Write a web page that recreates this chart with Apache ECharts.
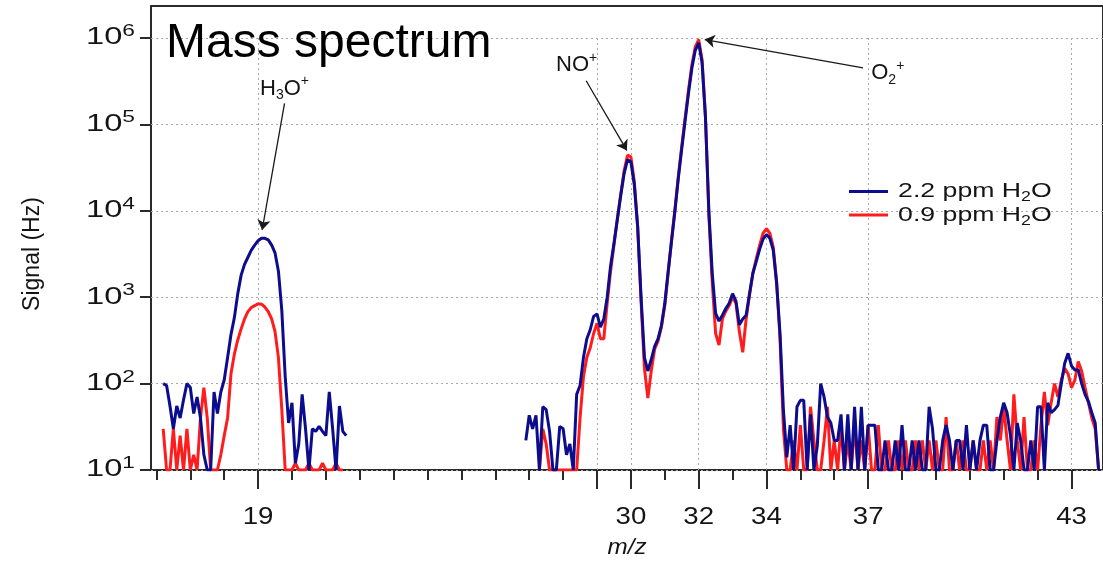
<!DOCTYPE html>
<html>
<head>
<meta charset="utf-8">
<script src="https://cdn.jsdelivr.net/npm/echarts@6/dist/echarts.min.js"></script>
<style>
  html, body { margin: 0; padding: 0; background: #ffffff; }
  #chart { width: 1103px; height: 564px; }
</style>
</head>
<body>
<div id="chart"></div>
<script>
// ---- scan data -------------------------------------------------------
// Each window is sampled every mzStep amu, starting at the given m/z.
const mzStep = 0.1;

// 2.2 ppm H2O
const blueStartA = 16.2;
const blueA = [
  100, 95, 55, 30, 55, 40, 65, 100,                         // 16.2 - 16.9
  90, 45, 70, 40, 15, 10, 10, 80, 45, 80,                   // 17
  110, 200, 370, 580, 1100, 1800, 2400, 2900, 3500, 4000,   // 18
  4500, 4800, 4800, 4600, 4000, 3250, 2000, 700, 120, 35,   // 19
  60, 12, 20, 75, 30, 10, 30, 28, 32, 28,                   // 20
  25, 80, 30, 10, 55, 28, 25                                // 21.0 - 21.6
];
const blueStartB = 26.9;
const blueB = [
  22,                                                                     // 26.9
  43, 30, 43, 10, 54, 50, 28, 10, 10, 32,                                 // 27
  30, 15, 20, 10, 75, 95, 200, 330, 420, 600,                             // 28
  640, 450, 560, 1000, 2300, 4200, 8000, 15000, 27000, 39000,             // 29
  37000, 20000, 6500, 1000, 200, 140, 190, 270, 330, 470,                 // 30
  850, 2000, 4500, 10000, 24000, 52000, 110000, 230000, 450000, 720000,   // 31
  880000, 520000, 120000, 10000, 1900, 650, 530, 620, 740, 850,           // 32
  1100, 900, 480, 560, 620, 1100, 1900, 2600, 3600, 4700,                 // 33
  5300, 4800, 3500, 1450, 380, 50, 14, 33, 10, 54,                        // 34
  64, 64, 10, 44, 10, 19, 100, 70, 41, 35,                                // 35
  22, 22, 44, 10, 44, 10, 54, 10, 54, 10,                                 // 36
  33, 33, 33, 10, 10, 22, 10, 10, 22, 10,                                 // 37
  33, 10, 10, 22, 10, 22, 10, 10, 54, 30,                                 // 38
  10, 10, 22, 33, 22, 10, 22, 22, 10, 33,                                 // 39
  10, 22, 10, 22, 33, 33, 10, 10, 22, 41,                                 // 40
  60, 46, 25, 10, 35, 22, 10, 10, 22, 10,                                 // 41
  54, 54, 10, 60, 46, 50, 56, 100, 172, 224,                              // 42
  160, 144, 144, 100, 75, 62, 46, 35, 10                                  // 43.0 - 43.8
];

// 0.9 ppm H2O
const redStartA = 16.2;
const redA = [
  30, 10, 10, 30, 10, 25, 10, 30,                           // 16.2 - 16.9
  10, 15, 10, 40, 90, 40, 10, 10, 10, 15,                   // 17
  25, 40, 130, 220, 320, 430, 560, 680, 760, 800,           // 18
  840, 830, 770, 680, 560, 400, 200, 50, 10, 10,            // 19
  10, 12, 10, 10, 10, 12, 10, 10, 10, 12,                   // 20
  10, 10, 10, 12, 10, 10                                    // 21.0 - 21.5
];
const redStartB = 27.3;
const redB = [
  10, 30, 20, 10, 10, 10, 10,                                             // 27.3 - 27.9
  10, 10, 10, 10, 10, 40, 120, 200, 260, 380,                             // 28
  500, 330, 330, 850, 2000, 4000, 8000, 15500, 29000, 44000,              // 29
  42000, 22000, 6500, 900, 150, 68, 140, 250, 310, 450,                   // 30
  800, 1900, 4600, 10500, 25000, 56000, 120000, 250000, 490000, 790000,   // 31
  960000, 560000, 125000, 9000, 1500, 380, 280, 560, 690, 800,            // 32
  1000, 850, 400, 230, 560, 1050, 1900, 2800, 4000, 5500,                 // 33
  6200, 5500, 3800, 1500, 330, 30, 10, 10, 22, 10,                        // 34
  33, 10, 10, 54, 22, 10, 10, 22, 54, 10,                                 // 35
  22, 10, 33, 10, 22, 10, 33, 10, 22, 10,                                 // 36
  33, 10, 10, 33, 10, 10, 22, 10, 10, 22,                                 // 37
  10, 22, 10, 10, 22, 10, 22, 10, 22, 10,                                 // 38
  22, 10, 10, 41, 10, 10, 22, 10, 22, 10,                                 // 39
  10, 22, 10, 10, 22, 10, 22, 10, 41, 22,                                 // 40
  54, 22, 10, 75, 22, 10, 41, 10, 10, 22,                                 // 41
  10, 33, 80, 33, 60, 100, 70, 110, 150, 130,                             // 42
  90, 110, 180, 140, 90, 60, 40, 30, 10                                   // 43.0 - 43.8
];

// ---- axes -------------------------------------------------------------
const seriesNames = ['2.2 ppm H2O', '0.9 ppm H2O'];
const xMinorTicks = [16, 17, 18, 19, 20, 21, 22, 23, 24, 25, 26, 27, 28, 29,
                     30, 31, 32, 33, 34, 35, 36, 37, 38, 39, 40, 41, 42, 43];
const xMajorTicks = [19, 29, 30, 32, 34, 37, 43];
const xTickLabels = [19, 30, 32, 34, 37, 43];
const yDecades = [10, 100, 1000, 10000, 100000, 1000000];

// ion annotations: label text position, arrow tail and arrow head (m/z, Hz)
const ionLabels = [
  { rich: '{t|H}{sub|3}{t|O}{sup|+}', text: [19.78, 2.6e5], tail: [19.78, 1.75e5], head: [19.12, 6.0e3] },
  { rich: '{t|NO}{sup|+}',            text: [28.40, 4.9e5], tail: [28.68, 3.2e5], head: [29.88, 5.0e4] },
  { rich: '{t|O}{sub|2}{sup|+}',      text: [37.58, 3.9e5], tail: [36.85, 4.5e5], head: [32.18, 9.6e5] }
];

// ---- build ----------------------------------------------------------------
const FONT = '"Liberation Sans", Arial, Helvetica, sans-serif';
const INK = '#141414';
const FRAME = '#2a2a2a';
const BLUE = '#0c0c8e';
const RED = '#ff1c1c';
const xMin = 15.84;
const xMax = 43.93;

function scanPoints(start, values) {
  return values.map((v, i) => [Number((start + i * mzStep).toFixed(2)), v]);
}
function joinWindows(a, b) {
  // an empty value between the windows breaks the trace
  const gapX = (a[a.length - 1][0] + b[0][0]) / 2;
  return a.concat([[gapX, '-']], b);
}

const blueData = joinWindows(scanPoints(blueStartA, blueA), scanPoints(blueStartB, blueB));
const redData = joinWindows(scanPoints(redStartA, redA), scanPoints(redStartB, redB));

const scriptRich = {
  t: { fontSize: 22, lineHeight: 28, color: INK, fontFamily: FONT },
  sub: { fontSize: 14, lineHeight: 14, verticalAlign: 'bottom', color: INK, fontFamily: FONT },
  sup: { fontSize: 14, lineHeight: 14, verticalAlign: 'top', color: INK, fontFamily: FONT }
};

const chart = echarts.init(document.getElementById('chart'), null, { renderer: 'canvas' });

chart.setOption({
  animation: false,
  backgroundColor: '#ffffff',
  textStyle: { fontFamily: FONT, color: INK },
  title: {
    text: 'Mass spectrum',
    left: 166,
    top: 20,
    padding: 0,
    textStyle: { fontSize: 48, fontWeight: 'normal', color: '#000000', fontFamily: FONT }
  },
  legend: {
    data: seriesNames,
    orient: 'vertical',
    left: 849,
    top: 181,
    padding: 0,
    itemWidth: 39,
    itemHeight: 3,
    itemGap: 0,
    icon: 'rect',
    selectedMode: false,
    formatter: name => '{g| }' + name.replace('H2O', '{t|H}{sub|2}{t|O}').replace(/^([^{]+)/, '{t|$1}'),
    textStyle: {
      rich: {
        g: { width: 4, fontSize: 10 },
        t: { fontSize: 21, lineHeight: 26, color: INK, fontFamily: FONT },
        sub: { fontSize: 14, lineHeight: 14, verticalAlign: 'bottom', color: INK, fontFamily: FONT }
      }
    }
  },
  grid: [
    { left: 151, right: -3, top: 38, bottom: 94 },
    { left: 151, right: -3, top: 6, bottom: 89, show: true, borderColor: FRAME, borderWidth: 2, backgroundColor: 'transparent' }
  ],
  xAxis: [
    {
      gridIndex: 0, type: 'value', min: xMin, max: xMax,
      axisLine: { show: false },
      axisTick: { show: false, customValues: xMajorTicks },
      axisLabel: { show: false },
      splitLine: { show: true, lineStyle: { color: '#a8a8a8', width: 1, type: [2, 3] } }
    },
    {
      gridIndex: 1, type: 'value', position: 'bottom', min: xMin, max: xMax,
      axisLine: { show: false },
      axisTick: { show: true, inside: false, length: 10, customValues: xMinorTicks, lineStyle: { color: FRAME, width: 2 } },
      axisLabel: { show: true, customValues: xTickLabels, margin: 36, fontSize: 23, color: INK, fontFamily: FONT },
      splitLine: { show: false },
      name: 'm/z', nameLocation: 'middle', nameGap: 67,
      nameTextStyle: { fontStyle: 'italic', fontSize: 22, color: INK, fontFamily: FONT }
    },
    {
      gridIndex: 1, type: 'value', position: 'bottom', min: xMin, max: xMax,
      axisLine: { show: false },
      axisTick: { show: true, inside: false, length: 19, customValues: xMajorTicks, lineStyle: { color: FRAME, width: 2 } },
      axisLabel: { show: false },
      splitLine: { show: false }
    }
  ],
  yAxis: [
    {
      gridIndex: 0, type: 'log', logBase: 10, min: yDecades[0], max: yDecades[yDecades.length - 1],
      axisLine: { show: false },
      axisTick: { show: true, inside: false, length: 11, lineStyle: { color: FRAME, width: 2 } },
      axisLabel: {
        margin: 16,
        formatter: v => '{b|10}{s|' + Math.round(Math.log10(v)) + '}',
        rich: {
          b: { fontSize: 23, lineHeight: 29, color: INK, fontFamily: FONT },
          s: { fontSize: 16, lineHeight: 16, verticalAlign: 'top', color: INK, fontFamily: FONT }
        }
      },
      splitLine: { show: true, lineStyle: { color: '#a8a8a8', width: 1, type: [2, 3] } },
      name: 'Signal (Hz)', nameLocation: 'middle', nameRotate: 90, nameGap: 107,
      nameTextStyle: { fontSize: 23, color: INK, fontFamily: FONT }
    },
    { gridIndex: 1, type: 'value', min: 0, max: 1, show: false }
  ],
  series: [
    {
      name: seriesNames[1], type: 'line', xAxisIndex: 0, yAxisIndex: 0,
      data: redData, showSymbol: false, symbol: 'none', connectNulls: false,
      lineStyle: { color: RED, width: 3 }, itemStyle: { color: RED },
      emphasis: { disabled: true }, z: 2
    },
    {
      name: seriesNames[0], type: 'line', xAxisIndex: 0, yAxisIndex: 0,
      data: blueData, showSymbol: false, symbol: 'none', connectNulls: false,
      lineStyle: { color: BLUE, width: 3 }, itemStyle: { color: BLUE },
      emphasis: { disabled: true }, z: 3,
      markLine: {
        silent: true,
        symbol: ['none', 'arrow'],
        symbolSize: 10,
        label: { show: false },
        lineStyle: { color: '#1a1a1a', width: 1.3, type: 'solid' },
        emphasis: { disabled: true },
        data: ionLabels.map(a => [{ coord: a.tail }, { coord: a.head }])
      },
      markPoint: {
        silent: true,
        symbol: 'circle',
        symbolSize: 0,
        itemStyle: { color: 'transparent' },
        label: { show: true, position: 'inside', rich: scriptRich },
        emphasis: { disabled: true },
        data: ionLabels.map(a => ({ coord: a.text, label: { formatter: a.rich } }))
      }
    }
  ]
});

// The axis and legend lettering of this figure is set wide; widen those
// text elements about their own anchor point.
const textWidening = [
  { match: t => t.indexOf('{b|10}') === 0, sx: 1.42 },
  { match: t => xTickLabels.map(String).indexOf(t) >= 0, sx: 1.2 },
  { match: t => t === 'm/z', sx: 1.1 },
  { match: t => t.indexOf('ppm') >= 0, sx: 1.27 }
];
function widenText() {
  const zr = chart.getZr();
  zr.storage.getRoots().forEach(root => {
    const visit = el => {
      const style = el.style;
      if (el.type === 'text' && style && typeof style.text === 'string' && !el.__widened) {
        const rule = textWidening.find(r => r.match(style.text));
        if (rule) {
          el.originX = style.x || 0;
          el.originY = style.y || 0;
          el.scaleX = (el.scaleX || 1) * rule.sx;
          el.__widened = true;
          el.markRedraw();
        }
      }
    };
    visit(root);
    if (root.traverse) root.traverse(visit);
  });
  zr.refresh();
}
widenText();
</script>
</body>
</html>
